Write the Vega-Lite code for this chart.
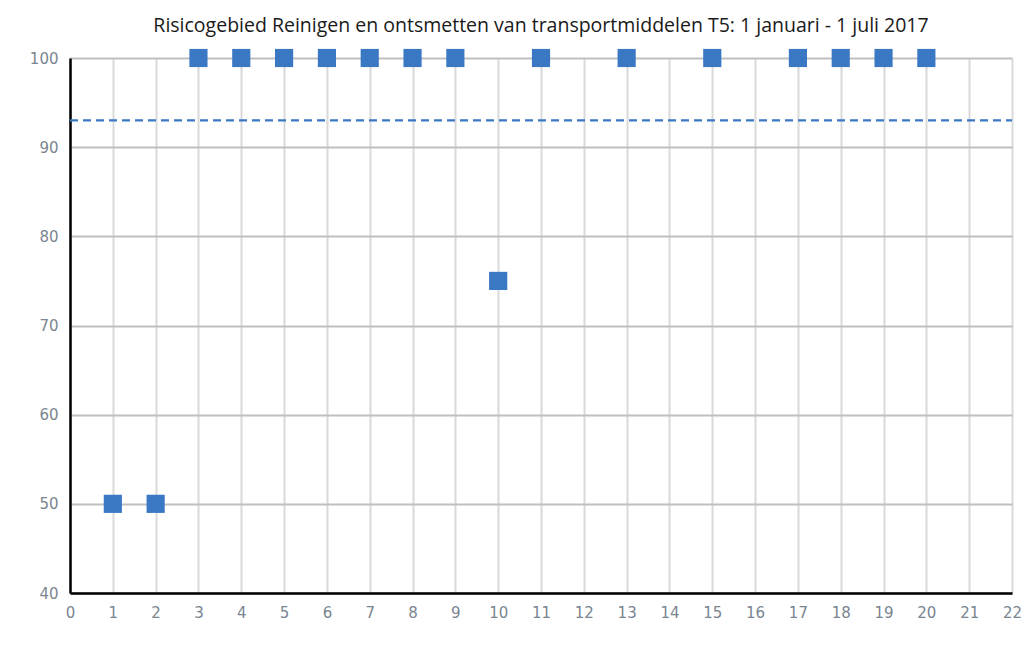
{
  "$schema": "https://vega.github.io/schema/vega-lite/v6.json",
  "autosize": "none",
  "width": 942,
  "height": 535,
  "padding": {"left": 70, "top": 58, "right": 9, "bottom": 52},
  "background": "white",
  "title": {
    "text": "Risicogebied Reinigen en ontsmetten van transportmiddelen T5: 1 januari - 1 juli 2017",
    "font": "Open Sans",
    "fontSize": 19.5,
    "fontWeight": "normal",
    "color": "#1a1a1a",
    "anchor": "middle",
    "offset": 12
  },
  "config": {
    "view": {"stroke": null},
    "axis": {
      "labelFont": "DejaVu Sans",
      "labelFontSize": 15,
      "labelColor": "#7a8590",
      "ticks": false,
      "title": null,
      "domainColor": "#000000",
      "domainWidth": 2.5,
      "gridWidth": 2,
      "labelPadding": 12
    }
  },
  "datasets": {
    "pts": [
      {"x": 1, "y": 50}, {"x": 2, "y": 50}, {"x": 3, "y": 100}, {"x": 4, "y": 100},
      {"x": 5, "y": 100}, {"x": 6, "y": 100}, {"x": 7, "y": 100}, {"x": 8, "y": 100},
      {"x": 9, "y": 100}, {"x": 10, "y": 75}, {"x": 11, "y": 100}, {"x": 13, "y": 100},
      {"x": 15, "y": 100}, {"x": 17, "y": 100}, {"x": 18, "y": 100}, {"x": 19, "y": 100},
      {"x": 20, "y": 100}
    ],
    "ref": [{"x": 0, "y": 93}, {"x": 22, "y": 93}]
  },
  "layer": [
    {
      "data": {"name": "ref"},
      "mark": {"type": "line", "color": "#3a78c4", "strokeWidth": 2.2, "strokeDash": [8, 5]},
      "encoding": {
        "x": {
          "field": "x", "type": "quantitative",
          "scale": {"domain": [0, 22], "nice": false},
          "axis": {"values": [0,1,2,3,4,5,6,7,8,9,10,11,12,13,14,15,16,17,18,19,20,21,22], "gridColor": "#d9d9d9", "labelFlush": false, "zindex": 0}
        },
        "y": {
          "field": "y", "type": "quantitative",
          "scale": {"domain": [40, 100], "nice": false, "zero": false},
          "axis": {"values": [40,50,60,70,80,90,100], "gridColor": "#bfbfbf", "labelFlush": false, "zindex": 0}
        }
      }
    },
    {
      "data": {"name": "pts"},
      "mark": {"type": "square", "filled": true, "color": "#3a78c4", "size": 330, "opacity": 1, "clip": false},
      "encoding": {
        "x": {"field": "x", "type": "quantitative"},
        "y": {"field": "y", "type": "quantitative"}
      }
    }
  ]
}
